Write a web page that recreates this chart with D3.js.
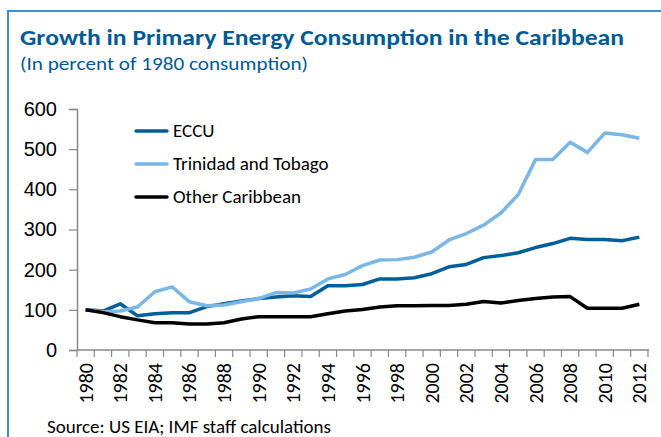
<!DOCTYPE html>
<html>
<head>
<meta charset="utf-8">
<script src="https://cdn.jsdelivr.net/npm/d3@7"></script>
<style>
  body { margin: 0; background: #fff; }
  svg { display: block; font-family: Calibri, Carlito, "Open Sans", sans-serif; }
</style>
</head>
<body>
<script>
var years = d3.range(1980, 2013);
var seriesNames = ['ECCU', 'Trinidad and Tobago', 'Other Caribbean'];
var eccu = [100, 97, 115, 85, 90, 93, 93, 108, 115, 122, 128, 132, 135, 133, 160, 160, 163, 177, 177, 180, 190, 207, 213, 230, 235, 242, 255, 265, 278, 275, 275, 272, 281];
var trinidad = [100, 95, 97, 107, 145, 157, 120, 110, 112, 120, 128, 143, 142, 152, 177, 188, 210, 224, 225, 231, 244, 274, 290, 311, 341, 387, 474, 474, 517, 492, 540, 536, 527];
var other = [100, 93, 83, 75, 68, 68, 65, 65, 68, 77, 83, 83, 83, 83, 90, 97, 101, 107, 110, 110, 111, 111, 114, 121, 117, 123, 128, 132, 133, 104, 104, 104, 114];
var yTicks = [0, 100, 200, 300, 400, 500, 600];
var colors = ['#005f99', '#7ab6e6', '#000000'];

var W = 661, H = 437;
var svg = d3.select('body').append('svg').attr('width', W).attr('height', H);

// frame
svg.append('path')
  .attr('d', 'M8,' + H + 'V11H' + W)
  .attr('fill', 'none').attr('stroke', '#3f8fd2').attr('stroke-width', 2);

svg.append('text').attr('x', 20).attr('y', 45)
  .attr('fill', '#005a96').attr('font-weight', 'bold').attr('font-size', 23)
  .attr('textLength', 604).attr('lengthAdjust', 'spacingAndGlyphs')
  .text('Growth in Primary Energy Consumption in the Caribbean');
svg.append('text').attr('x', 20).attr('y', 70)
  .attr('fill', '#005a96').attr('font-size', 19)
  .attr('textLength', 288).attr('lengthAdjust', 'spacingAndGlyphs')
  .text('(In percent of 1980 consumption)');

var x = d3.scaleBand().domain(years).range([77, 648]);
var y = d3.scaleLinear().domain([0, 600]).range([350, 109]);

// y axis
var ya = svg.append('g').attr('transform', 'translate(77,0)')
  .call(d3.axisLeft(y).tickValues(yTicks).tickSize(8).tickPadding(12));
ya.selectAll('text').attr('font-size', 20).attr('fill', '#000').attr('font-family', 'inherit');
ya.select('.domain').attr('stroke', '#888').attr('stroke-width', 1.5);
ya.selectAll('.tick line').attr('stroke', '#888').attr('stroke-width', 1.2);

// x axis with ticks between categories
var xa = svg.append('g').attr('transform', 'translate(0,350)');
xa.append('line').attr('x1', 77).attr('x2', 649).attr('stroke', '#888').attr('stroke-width', 1.5);
xa.selectAll('line.tk').data(years.concat([2013])).enter().append('line')
  .attr('class', 'tk')
  .attr('x1', function(d) { return d === 2013 ? 648 : x(d); })
  .attr('x2', function(d) { return d === 2013 ? 648 : x(d); })
  .attr('y1', 0).attr('y2', 7).attr('stroke', '#888').attr('stroke-width', 1.2);
xa.selectAll('text').data(years.filter(function(d) { return d % 2 === 0; })).enter().append('text')
  .attr('transform', function(d) { return 'translate(' + (x(d) + x.bandwidth() / 2 + 7) + ',13) rotate(-90)'; })
  .attr('text-anchor', 'end').attr('font-size', 20).attr('fill', '#000')
  .text(function(d) { return d; });

// lines
var line = d3.line()
  .x(function(d, i) { return x(years[i]) + x.bandwidth() / 2; })
  .y(function(d) { return y(d); });
[eccu, trinidad, other].forEach(function(s, i) {
  svg.append('path').datum(s)
    .attr('d', line).attr('fill', 'none')
    .attr('stroke', colors[i]).attr('stroke-width', 3.5)
    .attr('stroke-linejoin', 'round');
});

// legend
seriesNames.forEach(function(n, i) {
  var ly = 131 + i * 33;
  svg.append('line').attr('x1', 136).attr('x2', 167).attr('y1', ly).attr('y2', ly)
    .attr('stroke', colors[i]).attr('stroke-width', 3.5).attr('stroke-linecap', 'round');
  svg.append('text').attr('x', 173).attr('y', ly + 6).attr('font-size', 19).attr('fill', '#000').text(n);
});

svg.append('text').attr('x', 47).attr('y', 433).attr('font-size', 19).attr('fill', '#000')
  .text('Source: US EIA; IMF staff calculations');
</script>
</body>
</html>
